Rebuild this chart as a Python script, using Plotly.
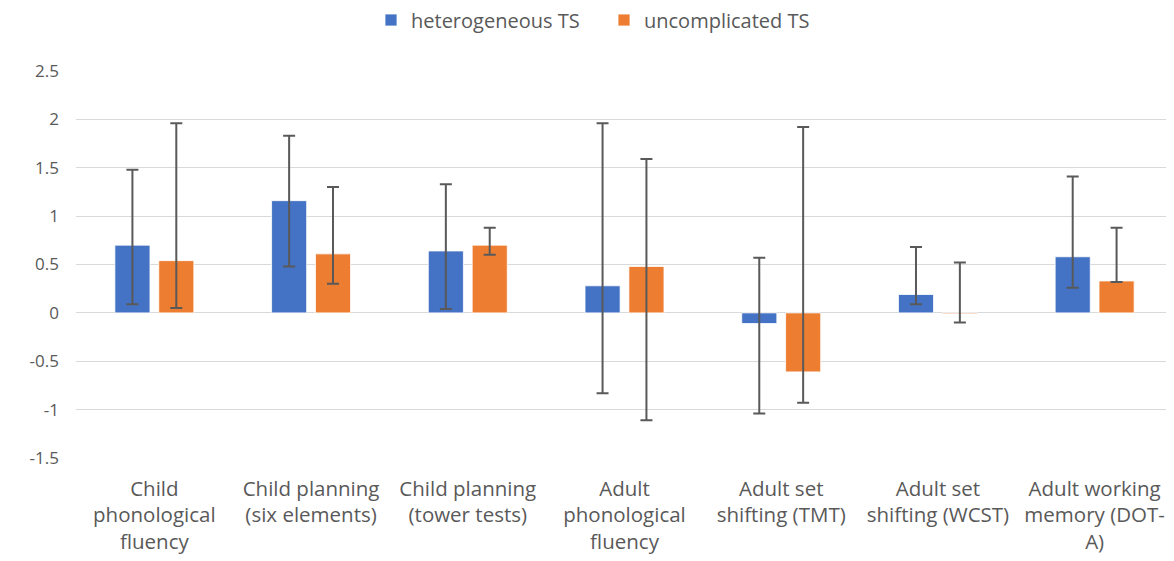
import plotly.graph_objects as go

categories = [
    "Child<br>phonological<br>fluency",
    "Child planning<br>(six elements)",
    "Child planning<br>(tower tests)",
    "Adult<br>phonological<br>fluency",
    "Adult set<br>shifting (TMT)",
    "Adult set<br>shifting (WCST)",
    "Adult working<br>memory (DOT-<br>A)",
]

hetero = [0.70, 1.16, 0.64, 0.28, -0.11, 0.19, 0.58]
hetero_hi = [1.48, 1.83, 1.33, 1.96, 0.57, 0.68, 1.41]
hetero_lo = [0.09, 0.48, 0.04, -0.83, -1.04, 0.09, 0.26]

uncomp = [0.54, 0.61, 0.70, 0.48, -0.61, -0.01, 0.33]
uncomp_hi = [1.96, 1.30, 0.88, 1.59, 1.92, 0.52, 0.88]
uncomp_lo = [0.05, 0.30, 0.60, -1.11, -0.93, -0.10, 0.32]

yticks = [-1.5, -1, -0.5, 0, 0.5, 1, 1.5, 2, 2.5]
ytick_text = ["-1.5", "-1", "-0.5", "0", "0.5", "1", "1.5", "2", "2.5"]


def err(vals, hi, lo):
    plus = [h - v for v, h in zip(vals, hi)]
    minus = [v - l for v, l in zip(vals, lo)]
    return dict(type="data", symmetric=False, array=plus, arrayminus=minus,
                color="#595959", thickness=2, width=6)


fig = go.Figure()
fig.add_trace(go.Bar(x=categories, y=hetero, name="heterogeneous TS",
                     marker=dict(color="#4472C4", line=dict(color="white", width=0.8)),
                     error_y=err(hetero, hetero_hi, hetero_lo)))
fig.add_trace(go.Bar(x=categories, y=uncomp, name="uncomplicated TS",
                     marker=dict(color="#ED7D31", line=dict(color="white", width=0.8)),
                     error_y=err(uncomp, uncomp_hi, uncomp_lo)))

font_family = "Open Sans, Noto Sans, sans-serif"
fig.update_layout(
    width=1174, height=561,
    margin=dict(l=68, r=9, t=63, b=111, autoexpand=False),
    paper_bgcolor="white", plot_bgcolor="white",
    barmode="group", bargap=0.44, bargroupgap=0.2,
    font=dict(family=font_family, size=17, color="#595959"),
    legend=dict(orientation="h", x=(363 - 68) / 1097, xanchor="left",
                yref="container", y=1 - 12 / 561, yanchor="middle",
                font=dict(size=20, color="#595959"), traceorder="normal",
                itemwidth=30, entrywidth=188, entrywidthmode="pixels"),
    showlegend=True,
)
fig.update_xaxes(showgrid=False, showline=False, ticks="", automargin=False,
                 ticklabelstandoff=16,
                 tickfont=dict(size=20.5, color="#595959"))
fig.update_yaxes(range=[-1.5, 2.5], tickvals=yticks, ticktext=ytick_text,
                 showgrid=True, gridcolor="#d9d9d9", gridwidth=1.3,
                 zeroline=True, zerolinecolor="#d9d9d9", zerolinewidth=1.3,
                 showline=False, ticks="", ticklabelstandoff=16, automargin=False,
                 tickfont=dict(size=17, color="#595959"))

fig.write_html("out.html")
